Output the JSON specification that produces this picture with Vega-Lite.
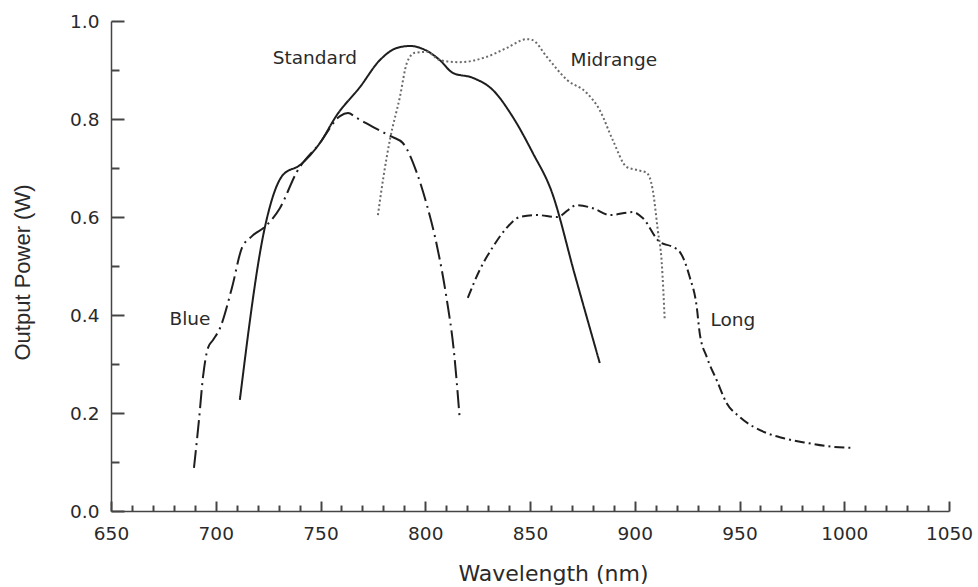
{
  "$schema": "https://vega.github.io/schema/vega-lite/v6.json",
  "width": 838,
  "height": 490,
  "autosize": {"type": "none"},
  "padding": {"left": 111, "top": 21, "right": 29, "bottom": 76},
  "background": "white",
  "config": {"view": {"stroke": null}},
  "datasets": {
    "curves": [
      {"series": "Standard", "wavelength": 711.5, "power": 0.227},
      {"series": "Standard", "wavelength": 723.5, "power": 0.580},
      {"series": "Standard", "wavelength": 732.1, "power": 0.686},
      {"series": "Standard", "wavelength": 740.2, "power": 0.706},
      {"series": "Standard", "wavelength": 749.7, "power": 0.751},
      {"series": "Standard", "wavelength": 757.8, "power": 0.808},
      {"series": "Standard", "wavelength": 768.8, "power": 0.865},
      {"series": "Standard", "wavelength": 778.3, "power": 0.920},
      {"series": "Standard", "wavelength": 786.5, "power": 0.945},
      {"series": "Standard", "wavelength": 792.7, "power": 0.949},
      {"series": "Standard", "wavelength": 800.8, "power": 0.939},
      {"series": "Standard", "wavelength": 807.0, "power": 0.920},
      {"series": "Standard", "wavelength": 813.2, "power": 0.894},
      {"series": "Standard", "wavelength": 822.7, "power": 0.884},
      {"series": "Standard", "wavelength": 832.3, "power": 0.859},
      {"series": "Standard", "wavelength": 841.8, "power": 0.804},
      {"series": "Standard", "wavelength": 851.3, "power": 0.731},
      {"series": "Standard", "wavelength": 860.4, "power": 0.651},
      {"series": "Standard", "wavelength": 871.4, "power": 0.482},
      {"series": "Standard", "wavelength": 883.3, "power": 0.302},

      {"series": "Blue", "wavelength": 689.6, "power": 0.088},
      {"series": "Blue", "wavelength": 692.0, "power": 0.186},
      {"series": "Blue", "wavelength": 693.9, "power": 0.273},
      {"series": "Blue", "wavelength": 696.3, "power": 0.333},
      {"series": "Blue", "wavelength": 698.7, "power": 0.349},
      {"series": "Blue", "wavelength": 702.0, "power": 0.373},
      {"series": "Blue", "wavelength": 707.7, "power": 0.455},
      {"series": "Blue", "wavelength": 712.5, "power": 0.537},
      {"series": "Blue", "wavelength": 717.3, "power": 0.561},
      {"series": "Blue", "wavelength": 723.5, "power": 0.580},
      {"series": "Blue", "wavelength": 730.6, "power": 0.618},
      {"series": "Blue", "wavelength": 738.7, "power": 0.692},
      {"series": "Blue", "wavelength": 749.7, "power": 0.751},
      {"series": "Blue", "wavelength": 759.3, "power": 0.806},
      {"series": "Blue", "wavelength": 763.1, "power": 0.812},
      {"series": "Blue", "wavelength": 767.4, "power": 0.802},
      {"series": "Blue", "wavelength": 779.8, "power": 0.773},
      {"series": "Blue", "wavelength": 784.5, "power": 0.763},
      {"series": "Blue", "wavelength": 789.3, "power": 0.751},
      {"series": "Blue", "wavelength": 796.0, "power": 0.690},
      {"series": "Blue", "wavelength": 800.8, "power": 0.624},
      {"series": "Blue", "wavelength": 805.5, "power": 0.543},
      {"series": "Blue", "wavelength": 810.3, "power": 0.431},
      {"series": "Blue", "wavelength": 813.6, "power": 0.329},
      {"series": "Blue", "wavelength": 816.5, "power": 0.186},

      {"series": "Midrange", "wavelength": 777.4, "power": 0.604},
      {"series": "Midrange", "wavelength": 780.2, "power": 0.686},
      {"series": "Midrange", "wavelength": 783.1, "power": 0.757},
      {"series": "Midrange", "wavelength": 787.9, "power": 0.845},
      {"series": "Midrange", "wavelength": 791.2, "power": 0.914},
      {"series": "Midrange", "wavelength": 795.0, "power": 0.935},
      {"series": "Midrange", "wavelength": 800.8, "power": 0.937},
      {"series": "Midrange", "wavelength": 807.0, "power": 0.920},
      {"series": "Midrange", "wavelength": 816.5, "power": 0.916},
      {"series": "Midrange", "wavelength": 829.4, "power": 0.927},
      {"series": "Midrange", "wavelength": 838.9, "power": 0.945},
      {"series": "Midrange", "wavelength": 848.5, "power": 0.963},
      {"series": "Midrange", "wavelength": 851.3, "power": 0.961},
      {"series": "Midrange", "wavelength": 858.0, "power": 0.927},
      {"series": "Midrange", "wavelength": 867.6, "power": 0.880},
      {"series": "Midrange", "wavelength": 877.1, "power": 0.853},
      {"series": "Midrange", "wavelength": 883.3, "power": 0.818},
      {"series": "Midrange", "wavelength": 889.5, "power": 0.757},
      {"series": "Midrange", "wavelength": 896.2, "power": 0.702},
      {"series": "Midrange", "wavelength": 901.0, "power": 0.696},
      {"series": "Midrange", "wavelength": 905.7, "power": 0.690},
      {"series": "Midrange", "wavelength": 908.6, "power": 0.655},
      {"series": "Midrange", "wavelength": 911.0, "power": 0.573},
      {"series": "Midrange", "wavelength": 912.9, "power": 0.506},
      {"series": "Midrange", "wavelength": 914.3, "power": 0.390},

      {"series": "Long", "wavelength": 820.3, "power": 0.435},
      {"series": "Long", "wavelength": 826.0, "power": 0.492},
      {"series": "Long", "wavelength": 832.3, "power": 0.539},
      {"series": "Long", "wavelength": 838.9, "power": 0.578},
      {"series": "Long", "wavelength": 845.1, "power": 0.600},
      {"series": "Long", "wavelength": 853.2, "power": 0.604},
      {"series": "Long", "wavelength": 862.8, "power": 0.600},
      {"series": "Long", "wavelength": 872.3, "power": 0.624},
      {"series": "Long", "wavelength": 880.0, "power": 0.618},
      {"series": "Long", "wavelength": 888.1, "power": 0.604},
      {"series": "Long", "wavelength": 899.0, "power": 0.610},
      {"series": "Long", "wavelength": 903.8, "power": 0.598},
      {"series": "Long", "wavelength": 911.9, "power": 0.549},
      {"series": "Long", "wavelength": 918.1, "power": 0.539},
      {"series": "Long", "wavelength": 921.5, "power": 0.529},
      {"series": "Long", "wavelength": 926.2, "power": 0.478},
      {"series": "Long", "wavelength": 929.6, "power": 0.416},
      {"series": "Long", "wavelength": 931.0, "power": 0.363},
      {"series": "Long", "wavelength": 934.4, "power": 0.314},
      {"series": "Long", "wavelength": 939.1, "power": 0.267},
      {"series": "Long", "wavelength": 943.9, "power": 0.220},
      {"series": "Long", "wavelength": 950.1, "power": 0.192},
      {"series": "Long", "wavelength": 963.0, "power": 0.159},
      {"series": "Long", "wavelength": 970.6, "power": 0.149},
      {"series": "Long", "wavelength": 982.1, "power": 0.139},
      {"series": "Long", "wavelength": 994.5, "power": 0.131},
      {"series": "Long", "wavelength": 1004.0, "power": 0.129}
    ],
    "labels": [
      {"label": "Standard", "wavelength": 747.3, "power": 0.924},
      {"label": "Midrange", "wavelength": 890.0, "power": 0.920},
      {"label": "Blue", "wavelength": 687.7, "power": 0.392},
      {"label": "Long", "wavelength": 946.8, "power": 0.390}
    ]
  },
  "resolve": {"axis": {"x": "independent", "y": "independent"}},
  "layer": [
    {
      "data": {"name": "curves"},
      "mark": {"type": "line", "interpolate": "monotone", "strokeWidth": 2},
      "encoding": {
        "x": {
          "field": "wavelength", "type": "quantitative",
          "scale": {"domain": [650, 1050], "nice": false, "zero": false},
          "axis": {
            "orient": "bottom",
            "values": [650, 700, 750, 800, 850, 900, 950, 1000, 1050],
            "format": "d",
            "grid": false,
            "ticks": false,
            "domain": true,
            "domainColor": "#444",
            "domainWidth": 1.5,
            "labelFont": "DejaVu Sans",
            "labelFontSize": 18.5,
            "labelColor": "#2a2a2a",
            "labelPadding": 13,
            "labelFlush": false,
            "title": "Wavelength (nm)",
            "titleFont": "DejaVu Sans",
            "titleFontSize": 22,
            "titleFontWeight": "normal",
            "titleColor": "#2a2a2a",
            "titleX": 442,
            "titleY": 69,
            "titleAlign": "center",
            "titleBaseline": "alphabetic"
          }
        },
        "y": {
          "field": "power", "type": "quantitative",
          "scale": {"domain": [0, 1], "nice": false, "zero": false},
          "axis": {
            "orient": "left",
            "values": [0, 0.2, 0.4, 0.6, 0.8, 1.0],
            "format": ".1f",
            "grid": false,
            "ticks": false,
            "domain": true,
            "domainColor": "#444",
            "domainWidth": 1.5,
            "labelFont": "DejaVu Sans",
            "labelFontSize": 18.5,
            "labelColor": "#2a2a2a",
            "labelPadding": 12,
            "labelFlush": false,
            "title": "Output Power (W)",
            "titleFont": "Liberation Sans",
            "titleFontSize": 22,
            "titleFontWeight": "normal",
            "titleColor": "#2a2a2a",
            "titleAngle": 270,
            "titleX": -89,
            "titleY": 251,
            "titleAlign": "center",
            "titleBaseline": "middle"
          }
        },
        "detail": {"field": "series", "type": "nominal"},
        "strokeDash": {
          "field": "series", "type": "nominal",
          "scale": {
            "domain": ["Standard", "Midrange", "Blue", "Long"],
            "range": [[1, 0], [2, 2.5], [18, 5, 2, 5], [10, 4, 2, 4]]
          },
          "legend": null
        },
        "color": {
          "field": "series", "type": "nominal",
          "scale": {
            "domain": ["Standard", "Midrange", "Blue", "Long"],
            "range": ["#1e1e1e", "#6a6a6a", "#1e1e1e", "#1e1e1e"]
          },
          "legend": null
        }
      }
    },
    {
      "data": {"name": "labels"},
      "mark": {"type": "text", "font": "DejaVu Sans", "fontSize": 18.5, "color": "#2a2a2a", "align": "center", "baseline": "middle"},
      "encoding": {
        "x": {
          "field": "wavelength", "type": "quantitative",
          "axis": {
            "orient": "bottom",
            "values": [650, 700, 750, 800, 850, 900, 950, 1000, 1050],
            "grid": false, "labels": false, "domain": false, "title": null,
            "ticks": true, "tickSize": -10, "tickWidth": 2, "tickColor": "#444"
          }
        },
        "y": {
          "field": "power", "type": "quantitative",
          "axis": {
            "orient": "left",
            "values": [0, 0.2, 0.4, 0.6, 0.8, 1.0],
            "grid": false, "labels": false, "domain": false, "title": null,
            "ticks": true, "tickSize": -13, "tickWidth": 2, "tickColor": "#444"
          }
        },
        "text": {"field": "label", "type": "nominal"}
      }
    },
    {
      "data": {"name": "curves"},
      "mark": {"type": "point", "opacity": 0},
      "encoding": {
        "x": {
          "field": "wavelength", "type": "quantitative",
          "axis": {
            "orient": "bottom",
            "values": [660, 670, 680, 690, 710, 720, 730, 740, 760, 770, 780, 790, 810, 820, 830, 840, 860, 870, 880, 890, 910, 920, 930, 940, 960, 970, 980, 990, 1010, 1020, 1030, 1040],
            "grid": false, "labels": false, "domain": false, "title": null,
            "ticks": true, "tickSize": -6, "tickWidth": 2, "tickColor": "#444"
          }
        },
        "y": {
          "field": "power", "type": "quantitative",
          "axis": {
            "orient": "left",
            "values": [0.1, 0.3, 0.5, 0.7, 0.9],
            "grid": false, "labels": false, "domain": false, "title": null,
            "ticks": true, "tickSize": -8, "tickWidth": 2, "tickColor": "#444"
          }
        }
      }
    }
  ]
}
